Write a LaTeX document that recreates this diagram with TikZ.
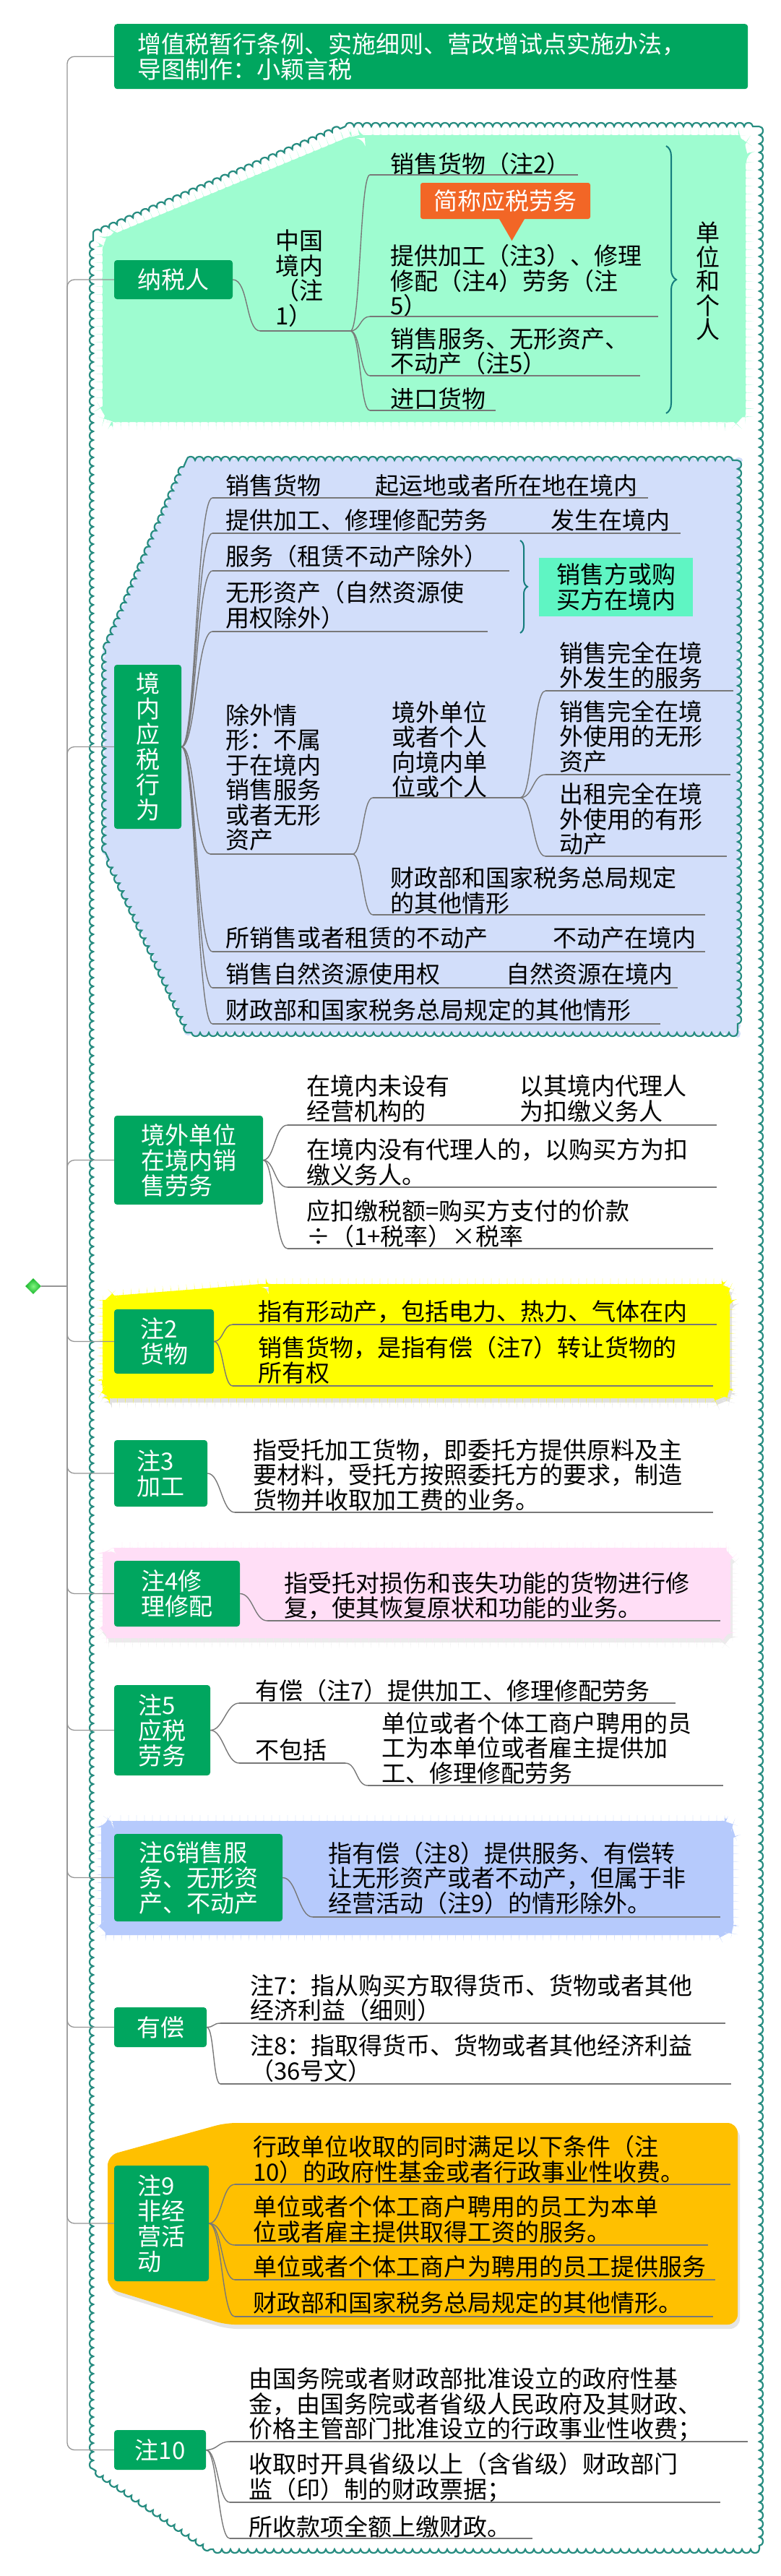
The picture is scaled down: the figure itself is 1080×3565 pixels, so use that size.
\documentclass[tikz,border=0pt]{standalone}
\usepackage{fontspec}
\setmainfont{Noto Sans CJK SC}
\usetikzlibrary{decorations.pathmorphing,decorations.pathreplacing,shapes.geometric,calc}

\definecolor{ngreen}{RGB}{0,166,95}
\definecolor{tealline}{RGB}{38,140,128}
\definecolor{mintbg}{RGB}{158,252,208}
\definecolor{bluebg}{RGB}{210,222,250}
\definecolor{bluebgb}{RGB}{182,202,252}
\definecolor{pinkbg}{RGB}{255,222,246}
\definecolor{yellowbg}{RGB}{255,255,0}
\definecolor{orangebg}{RGB}{255,192,0}
\definecolor{calloutcol}{RGB}{242,102,38}
\definecolor{mintbox}{RGB}{95,245,195}
\definecolor{conngray}{RGB}{120,120,120}
\definecolor{trunkgray}{RGB}{150,150,150}
\definecolor{bracecol}{RGB}{20,125,125}
\definecolor{rootgreen}{RGB}{20,180,40}
\definecolor{rootlight}{RGB}{130,245,130}

\newcommand\mmfont{\fontsize{33pt}{34.5pt}\selectfont}
\newcommand\mmnfont{\fontsize{33pt}{35pt}\selectfont}

\newcommand\mmtopic[7]{%
  \node[txt] (#1) at (#2,#3) {#4};
  \coordinate (#1-l) at (#5,#7);
  \coordinate (#1-r) at (#6,#7);
  \draw[uline] (#1-l) -- (#1-r);}
\newcommand\mmlink[4]{\draw[conn] (#1) .. controls +(#3,0) and +(-#4,0) .. (#2);}

\tikzset{
  txt/.style={font=\mmfont, text=black, inner sep=0pt, anchor=west, align=left},
  gnode/.style={fill=ngreen, text=white, font=\mmnfont, inner sep=0pt, rounded corners=4pt, align=left},
  uline/.style={draw=conngray, line width=1.6pt},
  conn/.style={draw=conngray, line width=1.4pt},
  trunk/.style={draw=trunkgray, line width=1.3pt, rounded corners=10pt},
  scallop/.style={decorate, decoration={bumps, segment length=22pt, amplitude=4pt}},
  tealwave/.style={draw=tealline, line width=2.2pt, decorate, decoration={bumps, segment length=24pt, amplitude=5pt}},
}

\begin{document}
\begin{tikzpicture}[x=1pt,y=-1pt]
\fill[white] (0,0) rectangle (1080,3565);
\useasboundingbox (0,0) rectangle (1080,3565);

% ---------- background shapes ----------
\draw[tealwave] (478,175) -- (1051,175);
\draw[tealwave] (1051,175) -- (1051,3528);
\draw[tealwave] (1051,3528) -- (291,3528);
\draw[tealwave] (291,3528) -- (129,3417);
\draw[tealwave] (129,3417) -- (129,325);
\draw[tealwave] (129,325) -- (478,175);

\fill[mintbg, scallop, rounded corners=15pt]
  (490,191) -- (1028,191) -- (1028,580) -- (146,580) -- (146,333) -- cycle;

\fill[bluebg, scallop]
  (258,637) -- (1021,637) -- (1021,1429) -- (262,1429) -- (146,1180) -- (146,900) -- cycle;
\draw[tealwave] (258,637) -- (1021,637);
\draw[tealwave] (1021,637) -- (1021,1429);
\draw[tealwave] (1021,1429) -- (262,1429);
\draw[tealwave] (262,1429) -- (146,1180);
\draw[tealwave] (146,1180) -- (146,900);
\draw[tealwave] (146,900) -- (258,637);

\begin{scope}[shift={(3,6)}]
  \fill[black!12, scallop, rounded corners=12pt]
    (360,1781) -- (1006,1781) -- (1006,1931) -- (146,1931) -- (146,1798) -- cycle;
  \fill[black!8, scallop, rounded corners=12pt]
    (146,2146) -- (1007,2146) -- (1007,2263) -- (146,2263) -- cycle;
  \fill[black!10, rounded corners=14pt]
    (312,2938) -- (1021,2938) -- (1021,3217) -- (312,3217) -- (149,3167) -- (149,2983) -- cycle;
\end{scope}

\fill[yellowbg, scallop, rounded corners=12pt]
  (360,1781) -- (1006,1781) -- (1006,1931) -- (146,1931) -- (146,1798) -- cycle;
\fill[pinkbg, scallop, rounded corners=12pt]
  (146,2146) -- (1007,2146) -- (1007,2263) -- (146,2263) -- cycle;
\fill[bluebgb, scallop, rounded corners=12pt]
  (144,2524) -- (1011,2524) -- (1011,2674) -- (144,2674) -- cycle;
\fill[orangebg, rounded corners=14pt]
  (312,2938) -- (1021,2938) -- (1021,3217) -- (312,3217) -- (149,3167) -- (149,2983) -- cycle;

% braces
\draw[bracecol, line width=2pt, decorate, decoration={brace, amplitude=14pt}] (922,202) -- (922,572);
\draw[bracecol, line width=2pt, decorate, decoration={brace, amplitude=10pt}] (720,748) -- (720,876);

% ---------- main nodes ----------
\node[gnode, anchor=north west, minimum width=877pt, minimum height=90pt, text width=813pt, inner xsep=32pt] (title) at (158,33)
  {增值税暂行条例、实施细则、营改增试点实施办法，\\导图制作：小颖言税};
\node[diamond, shading=radial, inner color=rootlight, outer color=rootgreen, minimum size=22pt, inner sep=0pt] (root) at (46,1780) {};

\node[gnode, minimum width=164pt, minimum height=54pt] (n1) at (240,387) {纳税人};
\node[gnode, minimum width=93pt, minimum height=227pt, align=center] (n2) at (204.5,1033.5) {境\\内\\应\\税\\行\\为};
\node[gnode, minimum width=206pt, minimum height=123pt] (n3) at (261,1605.5) {境外单位\\在境内销\\售劳务};
\node[gnode, minimum width=138pt, minimum height=89pt] (n4) at (227,1856.5) {注2\\货物};
\node[gnode, minimum width=129pt, minimum height=92pt] (n5) at (222.5,2039) {注3\\加工};
\node[gnode, minimum width=174pt, minimum height=91pt] (n6) at (245,2205.5) {注4修\\理修配};
\node[gnode, minimum width=133pt, minimum height=125pt] (n7) at (224.5,2394.5) {注5\\应税\\劳务};
\node[gnode, minimum width=233pt, minimum height=121pt] (n8) at (274.5,2598.5) {注6销售服\\务、无形资\\产、不动产};
\node[gnode, minimum width=128pt, minimum height=55pt] (n9) at (222,2805.5) {有偿};
\node[gnode, minimum width=131pt, minimum height=160pt] (n10) at (223.5,3077) {注9\\非经\\营活\\动};
\node[gnode, minimum width=127pt, minimum height=55pt] (n11) at (221.5,3390.5) {注10};

% trunk
\coordinate (hub) at (93,1780);
\draw[trunk] (root.east) -- (hub);
\foreach \n in {title,n1,n2,n3,n4,n5,n6,n7,n8,n9,n10,n11}
  {\draw[trunk] (hub) |- (\n.west);}

% ---------- 纳税人 ----------
\mmtopic{c1}{381}{385}{中国\\境内\\（注\\1）}{360}{485}{458}
\mmtopic{c1a}{540}{227}{销售货物（注2）}{512}{800}{242}
\mmtopic{c1b}{540}{388.5}{提供加工（注3）、修理\\修配（注4）劳务（注\\5）}{512}{911}{438}
\mmtopic{c1c}{540}{486}{销售服务、无形资产、\\不动产（注5）}{512}{886}{520}
\mmtopic{c1d}{540}{552}{进口货物}{512}{686}{568}
\node[fill=calloutcol, text=white, font=\mmfont, minimum width=235pt, minimum height=50pt, inner sep=0pt, rounded corners=3pt] (call) at (699.5,278) {简称应税劳务};
\fill[calloutcol] ([xshift=-9pt,yshift=1pt]call.south) -- ([xshift=27pt,yshift=1pt]call.south) -- ([xshift=9pt,yshift=-30pt]call.south) -- cycle;
\node[txt, anchor=center, align=center, font=\fontsize{33pt}{33.5pt}\selectfont] (who) at (980,389) {单\\位\\和\\个\\人};

\mmlink{n1.east}{c1-l}{22}{20}
\foreach \c in {c1a,c1b,c1c,c1d} {\mmlink{c1-r}{\c-l}{14}{14}}

% ---------- 境内应税行为 ----------
\mmtopic{b1}{312}{672}{销售货物}{294}{500}{689}
\mmtopic{b1c}{519}{672}{起运地或者所在地在境内}{505}{897}{689}
\mmtopic{b2}{312}{720}{提供加工、修理修配劳务}{294}{740}{738}
\mmtopic{b2c}{762}{720}{发生在境内}{745}{942}{738}
\mmtopic{b3}{312}{770}{服务（租赁不动产除外）}{294}{705}{790}
\mmtopic{b4}{312}{837.5}{无形资产（自然资源使\\用权除外）}{294}{675}{874}
\mmtopic{b5}{312}{1076}{除外情\\形：不属\\于在境内\\销售服务\\或者无形\\资产}{291}{488}{1182}
\mmtopic{b5a}{542}{1037.5}{境外单位\\或者个人\\向境内单\\位或个人}{516}{720}{1104}
\mmtopic{b5a1}{774}{921}{销售完全在境\\外发生的服务}{755}{1015}{956}
\mmtopic{b5a2}{774}{1019}{销售完全在境\\外使用的无形\\资产}{755}{1011}{1072}
\mmtopic{b5a3}{774}{1133.5}{出租完全在境\\外使用的有形\\动产}{755}{1006}{1185}
\mmtopic{b5b}{540}{1232.5}{财政部和国家税务总局规定\\的其他情形}{516}{976}{1266}
\mmtopic{b6}{312}{1298}{所销售或者租赁的不动产}{294}{722}{1317}
\mmtopic{b6c}{765}{1298}{不动产在境内}{727}{976}{1317}
\mmtopic{b7}{312}{1348}{销售自然资源使用权}{294}{665}{1367}
\mmtopic{b7c}{700}{1348}{自然资源在境内}{670}{938}{1367}
\mmtopic{b8}{312}{1398}{财政部和国家税务总局规定的其他情形}{294}{914}{1417}
\node[fill=mintbox, font=\mmfont, align=left, minimum width=213pt, minimum height=81pt, inner sep=0pt] (buyer) at (852.5,812.5) {销售方或购\\买方在境内};

\foreach \c in {b1,b2,b3,b4,b5,b6,b7,b8} {\mmlink{n2.east}{\c-l}{20}{22}}
\foreach \p/\c in {b1/b1c,b2/b2c,b6/b6c,b7/b7c} {\draw[conn] (\p-r) -- (\c-l);}
\foreach \c in {b5a,b5b} {\mmlink{b5-r}{\c-l}{14}{14}}
\foreach \c in {b5a1,b5a2,b5a3} {\mmlink{b5a-r}{\c-l}{18}{18}}

% ---------- 境外单位在境内销售劳务 ----------
\mmtopic{e1}{424}{1520.5}{在境内未设有\\经营机构的}{398}{680}{1557}
\mmtopic{e1c}{719}{1520.5}{以其境内代理人\\为扣缴义务人}{685}{992}{1557}
\mmtopic{e2}{424}{1608.5}{在境内没有代理人的，以购买方为扣\\缴义务人。}{398}{992}{1643}
\mmtopic{e3}{424}{1693.5}{应扣缴税额=购买方支付的价款\\÷（1+税率）×税率}{398}{987}{1728}
\foreach \c in {e1,e2,e3} {\mmlink{n3.east}{\c-l}{16}{18}}
\draw[conn] (e1-r) -- (e1c-l);

% ---------- 注2 ----------
\mmtopic{y1}{357}{1815}{指有形动产，包括电力、热力、气体在内}{322}{992}{1833}
\mmtopic{y2}{357}{1882.5}{销售货物，是指有偿（注7）转让货物的\\所有权}{322}{987}{1918}
\foreach \c in {y1,y2} {\mmlink{n4.east}{\c-l}{13}{13}}

% ---------- 注3 ----------
\mmtopic{j1}{350}{2041}{指受托加工货物，即委托方提供原料及主\\要材料，受托方按照委托方的要求，制造\\货物并收取加工费的业务。}{325}{987}{2093}
\mmlink{n5.east}{j1-l}{18}{18}

% ---------- 注4 ----------
\mmtopic{x1}{393}{2208.5}{指受托对损伤和丧失功能的货物进行修\\复，使其恢复原状和功能的业务。}{370}{997}{2243}
\mmlink{n6.east}{x1-l}{18}{18}

% ---------- 注5 ----------
\mmtopic{l1}{353}{2340}{有偿（注7）提供加工、修理修配劳务}{331}{935}{2357}
\mmtopic{l2}{353}{2422}{不包括}{331}{478}{2440}
\mmtopic{l2c}{528}{2419}{单位或者个体工商户聘用的员\\工为本单位或者雇主提供加\\工、修理修配劳务}{509}{1001}{2471}
\foreach \c in {l1,l2} {\mmlink{n7.east}{\c-l}{18}{18}}
\mmlink{l2-r}{l2c-l}{16}{16}

% ---------- 注6 ----------
\mmtopic{s1}{454}{2599}{指有偿（注8）提供服务、有偿转\\让无形资产或者不动产，但属于非\\经营活动（注9）的情形除外。}{433}{997}{2653}
\mmlink{n8.east}{s1-l}{20}{20}

% ---------- 有偿 ----------
\mmtopic{p1}{346}{2765}{注7：指从购买方取得货币、货物或者其他\\经济利益（细则）}{305}{1004}{2800}
\mmtopic{p2}{346}{2848.5}{注8：指取得货币、货物或者其他经济利益\\（36号文）}{305}{1012}{2884}
\foreach \c in {p1,p2} {\mmlink{n9.east}{\c-l}{10}{10}}

% ---------- 注9 ----------
\mmtopic{f1}{350}{2988.5}{行政单位收取的同时满足以下条件（注\\10）的政府性基金或者行政事业性收费。}{325}{1011}{3023}
\mmtopic{f2}{350}{3071.5}{单位或者个体工商户聘用的员工为本单\\位或者雇主提供取得工资的服务。}{325}{980}{3107}
\mmtopic{f3}{350}{3137}{单位或者个体工商户为聘用的员工提供服务}{325}{990}{3155}
\mmtopic{f4}{350}{3187}{财政部和国家税务总局规定的其他情形。}{325}{987}{3206}
\foreach \c in {f1,f2,f3,f4} {\mmlink{n10.east}{\c-l}{18}{18}}

% ---------- 注10 ----------
\mmtopic{z1}{344}{3328}{由国务院或者财政部批准设立的政府性基\\金，由国务院或者省级人民政府及其财政、\\价格主管部门批准设立的行政事业性收费；}{318}{1035}{3379}
\mmtopic{z2}{344}{3428.5}{收取时开具省级以上（含省级）财政部门\\监（印）制的财政票据；}{318}{997}{3463}
\mmtopic{z3}{344}{3497}{所收款项全额上缴财政。}{318}{737}{3513}
\foreach \c in {z1,z2,z3} {\mmlink{n11.east}{\c-l}{16}{16}}

\end{tikzpicture}
\end{document}
